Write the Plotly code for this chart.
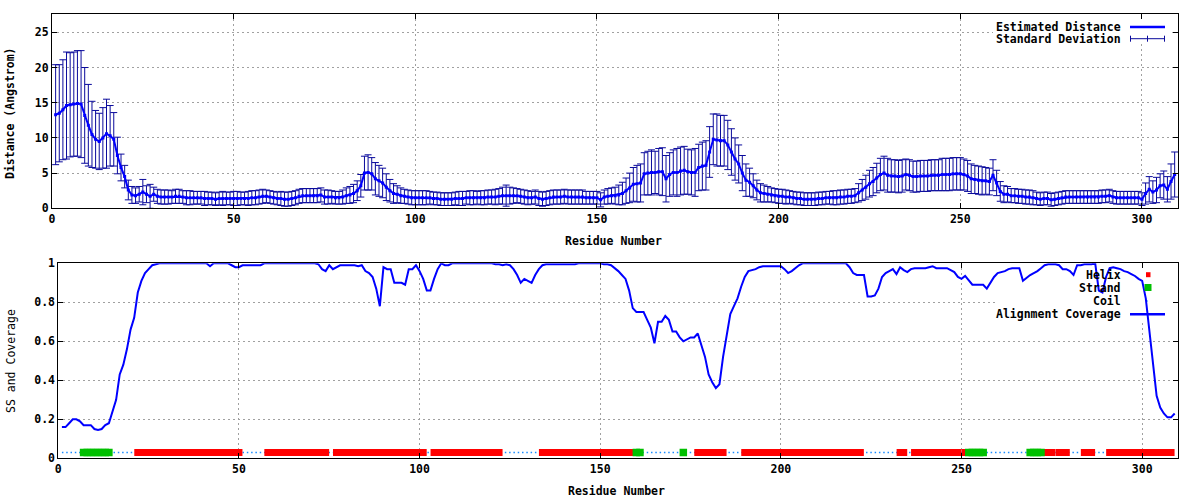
import plotly.graph_objects as go

# ---------------- data ----------------
residues = list(range(1, 310))

distance = [
    13.3, 13.5, 14.0, 14.6, 14.7, 14.8, 14.9, 14.8, 13.2, 11.8,
    10.5, 9.8, 9.5, 10.0, 10.6, 10.3, 9.8, 7.5, 5.8, 4.5,
    2.6, 1.9, 1.8, 2.0, 2.3, 2.0, 1.7, 2.0, 1.7, 1.6,
    1.6, 1.6, 1.6, 1.7, 1.7, 1.6, 1.5, 1.5, 1.5, 1.5,
    1.5, 1.4, 1.4, 1.4, 1.3, 1.4, 1.4, 1.4, 1.4, 1.4,
    1.4, 1.4, 1.4, 1.4, 1.5, 1.5, 1.6, 1.7, 1.7, 1.6,
    1.5, 1.4, 1.4, 1.3, 1.3, 1.4, 1.5, 1.7, 1.8, 1.8,
    1.8, 1.8, 1.8, 1.9, 1.6, 1.6, 1.6, 1.5, 1.5, 1.6,
    1.8, 1.9, 2.1, 2.5, 3.2, 5.0, 5.1, 4.9, 4.2, 3.9,
    3.6, 3.0, 2.5, 2.1, 2.0, 1.8, 1.7, 1.6, 1.5, 1.5,
    1.5, 1.5, 1.5, 1.5, 1.4, 1.4, 1.3, 1.3, 1.3, 1.3,
    1.4, 1.4, 1.4, 1.5, 1.5, 1.5, 1.5, 1.5, 1.5, 1.6,
    1.6, 1.6, 1.7, 1.8, 1.8, 1.8, 1.8, 1.8, 1.7, 1.6,
    1.5, 1.5, 1.6, 1.4, 1.3, 1.4, 1.5, 1.6, 1.6, 1.6,
    1.7, 1.6, 1.6, 1.6, 1.6, 1.6, 1.5, 1.5, 1.5, 1.5,
    1.2, 1.6, 1.7, 1.8, 1.8, 1.9, 2.1, 2.5, 2.9, 3.4,
    3.5, 3.6, 4.9, 5.0, 5.1, 5.1, 5.2, 5.2, 4.2, 4.8,
    5.1, 5.1, 5.3, 5.4, 5.2, 5.1, 5.1, 5.8, 6.0, 6.1,
    8.0, 9.8, 9.7, 9.6, 9.6, 9.0, 8.0, 7.0, 6.3, 5.0,
    4.0, 3.7, 3.2, 2.6, 2.2, 2.1, 2.0, 1.9, 1.8, 1.7,
    1.7, 1.6, 1.6, 1.5, 1.4, 1.4, 1.3, 1.3, 1.3, 1.3,
    1.4, 1.4, 1.5, 1.5, 1.5, 1.5, 1.6, 1.6, 1.7, 1.7,
    1.8, 2.2, 2.6, 3.0, 3.5, 3.8, 4.3, 4.8, 5.0, 4.7,
    4.6, 4.6, 4.5, 4.6, 4.8, 4.7, 4.5, 4.5, 4.6, 4.6,
    4.6, 4.7, 4.7, 4.7, 4.8, 4.8, 4.8, 4.9, 4.9, 4.9,
    4.8, 4.6, 4.2, 4.1, 4.0, 3.9, 3.9, 3.8, 4.7, 3.6,
    2.4, 2.0, 2.0, 1.8, 1.8, 1.7, 1.7, 1.6, 1.6, 1.5,
    1.4, 1.3, 1.4, 1.4, 1.2, 1.3, 1.4, 1.5, 1.6, 1.6,
    1.6, 1.6, 1.6, 1.6, 1.6, 1.6, 1.6, 1.6, 1.7, 1.7,
    1.8, 1.6, 1.5, 1.5, 1.5, 1.5, 1.5, 1.5, 1.5, 1.3,
    2.1, 2.7, 2.3, 2.6, 3.2, 3.3, 2.7, 3.8, 4.8,
]

std_dev = [
    7.1, 6.9, 7.1, 7.6, 7.4, 7.4, 7.5, 7.6, 6.8, 5.8,
    4.7, 4.1, 4.0, 4.3, 4.9, 4.3, 3.8, 2.6, 1.9, 1.6,
    1.4, 1.2, 1.1, 1.1, 1.8, 1.2, 1.7, 1.0, 1.0, 1.0,
    1.0, 1.0, 0.9, 1.0, 1.0, 0.9, 1.0, 1.0, 0.9, 0.9,
    0.9, 1.0, 0.9, 0.9, 0.9, 0.9, 1.0, 0.9, 0.9, 1.0,
    1.0, 0.9, 0.9, 1.0, 1.0, 1.0, 1.0, 1.0, 0.9, 0.9,
    0.9, 0.9, 1.0, 1.0, 1.0, 1.0, 1.0, 1.0, 1.0, 1.0,
    1.0, 1.0, 1.0, 1.0, 1.0, 1.0, 0.9, 0.9, 0.9, 1.0,
    1.1, 1.2, 1.3, 1.4, 1.6, 2.4, 2.5, 2.3, 2.3, 2.2,
    2.1, 1.9, 1.6, 1.4, 1.2, 1.1, 1.0, 1.0, 1.0, 1.0,
    1.0, 1.0, 1.0, 0.9, 0.9, 0.9, 0.9, 0.9, 0.9, 0.9,
    0.9, 1.0, 1.0, 0.9, 1.0, 1.0, 0.9, 1.0, 1.0, 1.0,
    1.0, 1.1, 1.1, 1.2, 1.5, 1.2, 1.1, 1.0, 1.0, 1.0,
    1.0, 0.9, 1.0, 1.0, 1.0, 1.0, 1.0, 1.0, 1.0, 1.0,
    1.0, 1.0, 1.0, 1.0, 1.0, 1.0, 0.9, 0.9, 0.9, 0.9,
    1.0, 1.0, 1.1, 1.1, 1.2, 1.4, 1.6, 1.8, 2.1, 2.4,
    2.6, 2.7, 3.0, 3.1, 3.2, 3.0, 3.3, 3.4, 3.3, 3.1,
    3.2, 3.4, 3.4, 3.4, 3.2, 3.2, 3.4, 3.3, 3.4, 3.5,
    3.6, 3.6, 3.7, 3.6, 3.6, 3.5, 3.3, 3.0, 2.7, 2.5,
    2.3, 2.0, 1.7, 1.4, 1.3, 1.2, 1.1, 1.0, 1.0, 1.0,
    1.0, 1.0, 0.9, 0.9, 0.9, 0.9, 0.9, 0.9, 0.9, 0.9,
    0.9, 0.9, 0.9, 0.9, 1.0, 1.0, 1.0, 1.0, 1.0, 1.0,
    1.0, 1.3, 1.5, 1.7, 1.9, 2.0, 2.1, 2.3, 2.4, 2.4,
    2.3, 2.3, 2.3, 2.3, 2.2, 2.2, 2.2, 2.2, 2.2, 2.2,
    2.2, 2.2, 2.2, 2.2, 2.3, 2.3, 2.3, 2.3, 2.3, 2.3,
    2.2, 2.2, 2.1, 2.0, 2.0, 2.0, 1.9, 1.9, 2.2, 1.8,
    1.4, 1.2, 1.1, 1.0, 1.0, 1.0, 1.0, 1.0, 1.0, 1.0,
    0.9, 0.9, 0.9, 0.9, 0.9, 0.9, 0.9, 0.9, 0.9, 0.9,
    0.9, 0.9, 0.9, 0.9, 0.9, 0.9, 0.9, 0.9, 0.9, 0.9,
    0.9, 0.9, 0.9, 0.9, 0.9, 0.9, 0.9, 0.9, 0.9, 0.9,
    1.5, 1.8, 1.6, 1.8, 1.7, 2.0, 1.8, 2.5, 3.2,
]

coverage = [
    0.16, 0.16, 0.18, 0.20, 0.20, 0.19, 0.17, 0.17, 0.17, 0.15,
    0.145, 0.15, 0.17, 0.18, 0.24, 0.30, 0.43, 0.48, 0.56, 0.66,
    0.72, 0.85, 0.91, 0.95, 0.97, 0.99, 0.995, 1.0, 1.0, 1.0,
    1.0, 1.0, 1.0, 1.0, 1.0, 1.0, 1.0, 1.0, 1.0, 1.0,
    1.0, 0.985, 1.0, 1.0, 1.0, 1.0, 1.0, 0.99, 0.98, 0.98,
    0.99, 0.99, 0.99, 0.99, 0.99, 0.99, 1.0, 1.0, 1.0, 1.0,
    1.0, 1.0, 1.0, 1.0, 1.0, 1.0, 1.0, 1.0, 1.0, 1.0,
    1.0, 0.995, 0.97, 0.96, 0.99, 0.97, 0.98, 0.99, 0.99, 0.99,
    0.99, 0.99, 0.985, 0.99, 0.96, 0.95, 0.93, 0.87, 0.78, 0.98,
    0.97, 0.97, 0.90, 0.90, 0.90, 0.89, 0.97, 0.97, 0.99, 0.96,
    0.92, 0.86, 0.86, 0.92, 0.97, 1.0, 0.99, 0.99, 1.0, 1.0,
    1.0, 1.0, 1.0, 1.0, 1.0, 1.0, 1.0, 1.0, 1.0, 1.0,
    0.995, 0.995, 0.99, 0.995, 0.99, 0.97, 0.94, 0.90, 0.92, 0.91,
    0.90, 0.94, 0.97, 0.99, 0.995, 0.995, 0.995, 0.995, 0.995, 0.995,
    0.995, 0.995, 0.995, 1.0, 1.0, 1.0, 1.0, 1.0, 1.0, 1.0,
    0.995, 0.995, 0.99, 0.975, 0.96, 0.94, 0.92, 0.86, 0.77, 0.75,
    0.75, 0.75, 0.71, 0.67, 0.59, 0.70, 0.70, 0.73, 0.71, 0.65,
    0.65, 0.62, 0.60, 0.61, 0.62, 0.62, 0.64, 0.58, 0.52, 0.43,
    0.39, 0.36, 0.38, 0.52, 0.63, 0.74, 0.78, 0.82, 0.88, 0.93,
    0.96, 0.965, 0.97, 0.98, 0.985, 0.985, 0.985, 0.985, 0.985, 0.985,
    0.97, 0.95, 0.96, 0.975, 0.99, 1.0, 1.0, 1.0, 1.0, 1.0,
    1.0, 1.0, 1.0, 1.0, 1.0, 1.0, 1.0, 1.0, 0.98, 0.95,
    0.94, 0.94, 0.94, 0.83, 0.83, 0.835, 0.87, 0.93, 0.95, 0.96,
    0.97, 0.945, 0.98, 0.965, 0.955, 0.97, 0.975, 0.975, 0.975, 0.975,
    0.98, 0.985, 0.975, 0.975, 0.975, 0.975, 0.965, 0.955, 0.93, 0.92,
    0.935, 0.91, 0.89, 0.89, 0.89, 0.89, 0.87, 0.90, 0.93, 0.95,
    0.955, 0.96, 0.97, 0.975, 0.975, 0.975, 0.91, 0.925, 0.94, 0.95,
    0.96, 0.975, 0.99, 0.995, 0.995, 0.995, 0.99, 0.97, 0.97, 0.96,
    0.94, 0.99, 0.99, 0.995, 0.995, 0.995, 1.0, 0.86, 0.85, 0.93,
    0.975, 0.98, 0.975, 0.97, 0.96, 0.955, 0.945, 0.935, 0.92, 0.91,
    0.82, 0.66, 0.48, 0.32, 0.26, 0.23, 0.21, 0.21, 0.23,
]

# secondary structure segments: (first residue, last residue, type)
ss_segments = [
    (1, 6, "C"), (7, 14, "E"), (15, 21, "C"), (22, 50, "H"), (51, 57, "C"),
    (58, 74, "H"), (75, 76, "C"), (77, 101, "H"), (102, 103, "C"), (104, 122, "H"),
    (123, 133, "C"), (134, 159, "H"), (160, 161, "E"), (162, 172, "C"), (173, 173, "E"),
    (174, 176, "C"), (177, 184, "H"), (185, 189, "C"), (190, 222, "H"), (223, 232, "C"),
    (233, 234, "H"), (235, 236, "C"), (237, 249, "H"), (250, 250, "C"), (251, 251, "H"),
    (252, 256, "E"), (257, 268, "C"), (269, 272, "E"), (273, 275, "H"), (276, 276, "C"),
    (277, 279, "H"), (280, 283, "C"), (284, 286, "H"), (287, 290, "C"), (291, 308, "H"),
    (309, 309, "C"),
]

x_ticks = [0, 50, 100, 150, 200, 250, 300]
dist_ticks = [0, 5, 10, 15, 20, 25]
cov_ticks = [0, 0.2, 0.4, 0.6, 0.8, 1]
cov_tick_text = ["0", "0.2", "0.4", "0.6", "0.8", "1"]

assert len(distance) == len(residues) == len(std_dev) == len(coverage)

# ---------------- styling ----------------
W, H = 1200, 500
FONT = "DejaVu Sans Mono"
FS = 11.5
BLUE = "#0000ff"
NAVY = "#0a0a9c"
RED = "#ff0000"
GREEN = "#00c000"
COIL = "#1a8cff"
GRID = "#a0a0a0"
SS_LEVEL = 0.03
X_MAX = 310
Y_TOP_MAX = 27.56

TOP = dict(x0=52, x1=1178.3, y0=14.3, y1=208.3)
BOT = dict(x0=58.3, x1=1178.3, y0=263.3, y1=458.3)


def xdom(b):
    return [b["x0"] / W, b["x1"] / W]


def ydom(b):
    return [1 - b["y1"] / H, 1 - b["y0"] / H]


def px(x):
    return x / W


def py(y):
    return 1 - y / H


ss_of = {}
for a, b, t in ss_segments:
    for r in range(a, b + 1):
        ss_of[r] = t
helix_x = [r for r in residues if ss_of.get(r) == "H"]
strand_x = [r for r in residues if ss_of.get(r) == "E"]
coil_x = [r for r in residues if ss_of.get(r) == "C"]

fig = go.Figure()

# ---- top: distance with error bars ----
fig.add_trace(go.Scatter(
    x=residues, y=distance, mode="markers",
    marker=dict(size=1, opacity=0, color=NAVY),
    error_y=dict(type="data", array=std_dev, color=NAVY, thickness=1, width=3.5),
    xaxis="x", yaxis="y", showlegend=False, hoverinfo="skip",
))
fig.add_trace(go.Scatter(
    x=residues, y=distance, mode="lines+markers",
    line=dict(color=BLUE, width=2),
    marker=dict(symbol="square", size=3, color=BLUE, line=dict(width=0)),
    xaxis="x", yaxis="y", showlegend=False, name="Estimated Distance",
))

# ---- bottom: SS and coverage ----
fig.add_trace(go.Scatter(
    x=coil_x, y=[SS_LEVEL] * len(coil_x), mode="lines",
    line=dict(color=COIL, width=1.5, dash="1.5px,2.8px"),
    xaxis="x2", yaxis="y2", showlegend=False, name="Coil",
))
fig.add_trace(go.Scatter(
    x=helix_x, y=[SS_LEVEL] * len(helix_x), mode="markers",
    marker=dict(symbol="square", size=7, color=RED, line=dict(width=0)),
    xaxis="x2", yaxis="y2", showlegend=False, name="Helix",
))
fig.add_trace(go.Scatter(
    x=strand_x, y=[SS_LEVEL] * len(strand_x), mode="markers",
    marker=dict(symbol="square", size=7.5, color=GREEN, line=dict(width=0)),
    xaxis="x2", yaxis="y2", showlegend=False, name="Strand",
))
fig.add_trace(go.Scatter(
    x=residues, y=coverage, mode="lines",
    line=dict(color=BLUE, width=2),
    xaxis="x2", yaxis="y2", showlegend=False, name="Alignment Coverage",
))

tickfont = dict(family=FONT, size=FS, color="black", weight="bold")
axis_common = dict(
    showline=True, linecolor="black", linewidth=1, mirror="allticks",
    ticks="inside", ticklen=5, tickwidth=1, tickcolor="black",
    showgrid=True, gridcolor=GRID, gridwidth=1, griddash="2px,3px",
    zeroline=False, tickfont=tickfont, automargin=False,
)

fig.update_layout(
    width=W, height=H,
    margin=dict(l=0, r=0, t=0, b=0),
    paper_bgcolor="white", plot_bgcolor="white",
    showlegend=False,
    xaxis=dict(domain=xdom(TOP), range=[0, X_MAX], tickvals=x_ticks, anchor="y", **axis_common),
    yaxis=dict(domain=ydom(TOP), range=[0, Y_TOP_MAX], tickvals=dist_ticks, anchor="x", **axis_common),
    xaxis2=dict(domain=xdom(BOT), range=[0, X_MAX], tickvals=x_ticks, anchor="y2", **axis_common),
    yaxis2=dict(domain=ydom(BOT), range=[0, 1], tickvals=cov_ticks, ticktext=cov_tick_text,
                anchor="x2", **axis_common),
)


# ---- white legend boxes (above grid, below traces), in axis units ----
def axis_rect(b, xref, yref, ymax, x0, x1, y0, y1):
    sx = X_MAX / (b["x1"] - b["x0"])
    sy = ymax / (b["y1"] - b["y0"])
    return dict(
        type="rect", xref=xref, yref=yref,
        x0=(x0 - b["x0"]) * sx, x1=(x1 - b["x0"]) * sx,
        y0=(b["y1"] - y1) * sy, y1=(b["y1"] - y0) * sy,
        fillcolor="white", line=dict(width=0), layer="between",
    )


shapes = [
    axis_rect(TOP, "x", "y", Y_TOP_MAX, 993, 1172, 17, 44),
    axis_rect(BOT, "x2", "y2", 1.0, 998, 1172, 267, 320),
]


# legend samples (paper coordinates)
def hline(x0, x1, y, color, width):
    return dict(type="line", xref="paper", yref="paper", x0=px(x0), x1=px(x1),
                y0=py(y), y1=py(y), line=dict(color=color, width=width))


def vline(x, y0, y1, color, width):
    return dict(type="line", xref="paper", yref="paper", x0=px(x), x1=px(x),
                y0=py(y0), y1=py(y1), line=dict(color=color, width=width))


def box(x0, x1, y0, y1, color):
    return dict(type="rect", xref="paper", yref="paper", x0=px(x0), x1=px(x1),
                y0=py(y1), y1=py(y0), fillcolor=color, line=dict(width=0))


shapes += [
    hline(1130, 1165, 27, BLUE, 2.5),
    hline(1130, 1165, 38.7, NAVY, 1),
    vline(1130.5, 35.7, 41.7, NAVY, 1),
    vline(1147.5, 35.7, 41.7, NAVY, 1),
    vline(1164.5, 35.7, 41.7, NAVY, 1),
    box(1146, 1150.5, 272.2, 277.2, RED),
    box(1144.5, 1151.5, 284, 291, GREEN),
    box(1147, 1148, 300.5, 301.5, COIL),
    hline(1130, 1165, 314.3, BLUE, 2.5),
]

ann_font_b = dict(family=FONT, size=FS, color="black", weight="bold")
ann_font_n = dict(family=FONT, size=FS, color="black")

annotations = []


def label(text, x, y, xanchor="right", font=ann_font_b, angle=0):
    annotations.append(dict(text=text, x=px(x), y=py(y), xref="paper", yref="paper",
                            xanchor=xanchor, yanchor="middle", showarrow=False,
                            font=font, textangle=angle))


label("Estimated Distance", 1123, 27)
label("Standard Deviation", 1123, 38.7)
label("Helix", 1123, 274.7)
label("Strand", 1123, 287.5)
label("Coil", 1123, 301)
label("Alignment Coverage", 1123, 314.3)
label("Residue Number", 613.5, 240.7, xanchor="center")
label("Residue Number", 616.7, 490.7, xanchor="center")
label("Distance (Angstrom)", 10, 113, xanchor="center", angle=-90)
label("SS and Coverage", 11, 361, xanchor="center", font=ann_font_n, angle=-90)

fig.update_layout(shapes=shapes, annotations=annotations)

fig.write_html("out.html", config={"displayModeBar": False},
               post_script="document.body.style.margin='0px';")
